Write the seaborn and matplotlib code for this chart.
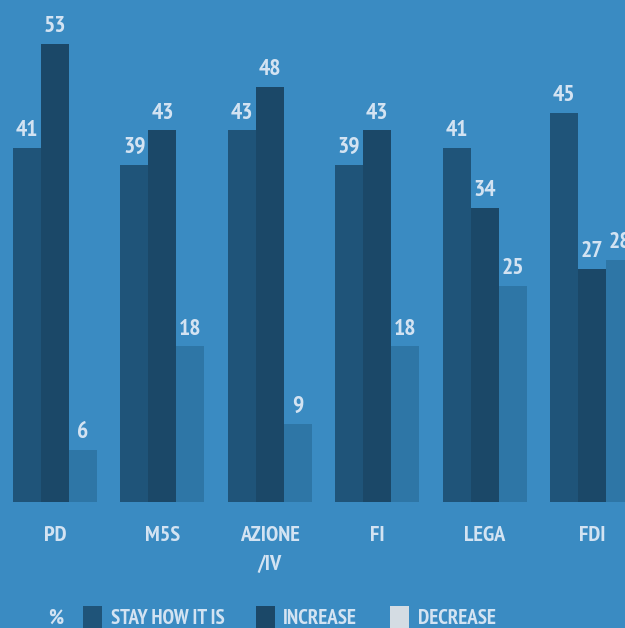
import matplotlib
matplotlib.use("Agg")
import matplotlib.pyplot as plt
from matplotlib import font_manager as fm
import seaborn as sns
import pandas as pd
from matplotlib.patches import Rectangle

categories = ["PD", "M5S", "AZIONE\n/IV", "FI", "LEGA", "FDI"]
series = ["STAY HOW IT IS", "INCREASE", "DECREASE"]
stay = [41, 39, 43, 39, 41, 45]
increase = [53, 43, 48, 43, 34, 27]
decrease = [6, 18, 9, 18, 25, 28]

BG = "#3a8bc2"
TXT = "#d3e3f2"
colors = {"STAY HOW IT IS": "#1f5479", "INCREASE": "#1b4868", "DECREASE": "#2e76a6"}
legend_colors = ["#1f5479", "#1b4868", "#d4dce3"]

sns.set_theme(style="white")


def find_condensed():
    best = None
    for f in fm.fontManager.ttflist:
        nm = f.name.lower()
        st = str(f.stretch).lower()
        w = f.weight if isinstance(f.weight, int) else (700 if "bold" in str(f.weight) else 400)
        cond = ("condensed" in st) or ("narrow" in nm) or ("condensed" in nm) or ("condensed" in f.fname.lower()) or ("narrow" in f.fname.lower())
        if cond and w >= 600 and "oblique" not in f.fname.lower() and "italic" not in f.fname.lower():
            best = f.fname
            if "narrow" in nm or "liberation" in nm:
                return f.fname
    return best


cfont = find_condensed()
if cfont:
    FP = fm.FontProperties(fname=cfont)
    scale = 1.0
else:
    FP = fm.FontProperties(family=["Roboto", "DejaVu Sans"], weight="bold")
    scale = 0.8

plt.rcParams["font.family"] = ["Roboto", "DejaVu Sans"]


def fp(size):
    p = FP.copy()
    p.set_size(size * scale)
    return p


rows = []
for i, c in enumerate(categories):
    for s, vals in zip(series, [stay, increase, decrease]):
        rows.append({"party": c, "series": s, "value": vals[i]})
df = pd.DataFrame(rows)

W, H = 625, 628
fig = plt.figure(figsize=(W / 100, H / 100), dpi=100, facecolor=BG)
base = 502
ax = fig.add_axes([0, (H - base) / H, 1, base / H])
ax.set_facecolor(BG)

sns.barplot(data=df, x="party", y="value", hue="series", order=categories,
            hue_order=series, palette=colors, saturation=1, width=0.782,
            gap=0, linewidth=0, ax=ax, legend=False)

unit = 107.4
ax.set_xlim(-55 / unit, (W - 55) / unit)
ax.set_ylim(0, base / 8.64)

for cont in ax.containers:
    for bar in cont:
        h = bar.get_height()
        ax.annotate(f"{h:.0f}", (bar.get_x() + bar.get_width() / 2, h),
                    xytext=(0, 8.6), textcoords="offset points",
                    ha="center", va="baseline", color=TXT,
                    fontproperties=fp(17))

ax.set_xticks(range(len(categories)))
ax.set_xticklabels(categories, color=TXT, fontproperties=fp(16), linespacing=1.7)
ax.tick_params(axis="x", length=0, pad=17)
ax.set_yticks([])
ax.set_xlabel("")
ax.set_ylabel("")
for sp in ax.spines.values():
    sp.set_visible(False)

# legend row at bottom
ly = 1 - 618 / H
fig.text(48 / W, ly, "%", color=TXT, fontproperties=fp(15), va="center", ha="left")
sw_x = [83, 256, 390]
tx_x = [111, 283, 418]
for sx, tx, col, lab in zip(sw_x, tx_x, legend_colors, series):
    fig.patches.append(Rectangle((sx / W, 1 - 640 / H), 19 / W, 34 / H,
                                 transform=fig.transFigure, facecolor=col,
                                 edgecolor="none"))
    fig.text(tx / W, ly, lab, color=TXT, fontproperties=fp(15),
             va="center", ha="left")

fig.savefig("out.png", dpi=100, facecolor=BG)
